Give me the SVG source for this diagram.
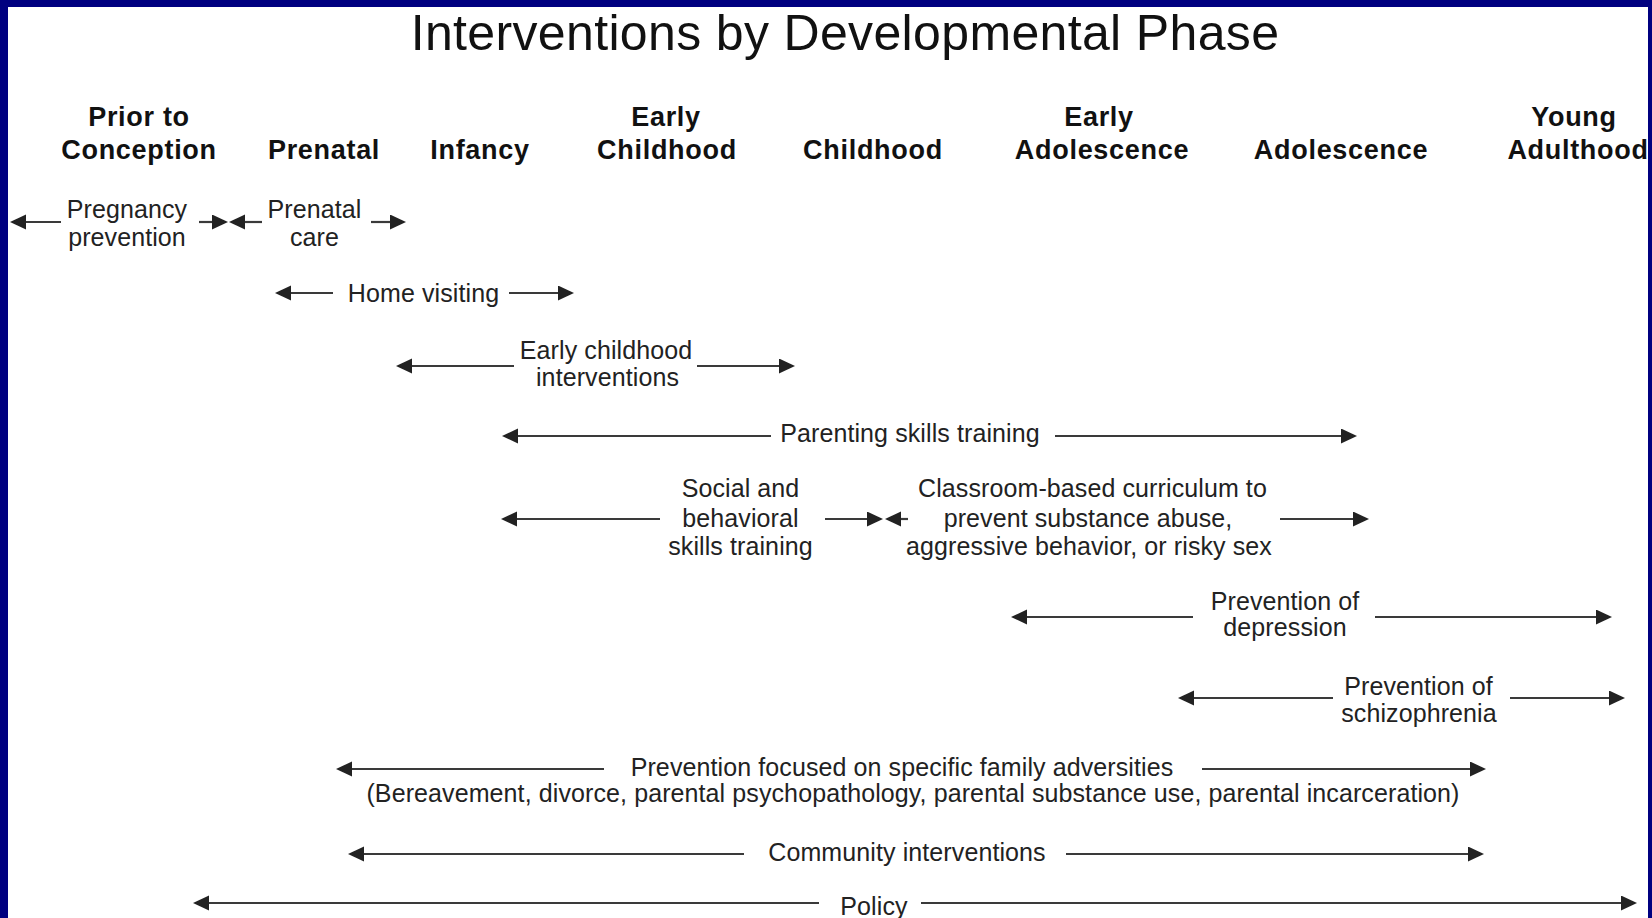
<svg xmlns="http://www.w3.org/2000/svg" width="1652" height="918" viewBox="0 0 1652 918">
  <style>
    .title { font-family: "Liberation Sans", Arial, sans-serif; font-size: 50px; letter-spacing: 0.35px; fill: #111; text-anchor: middle; }
    .phase { font-family: "Liberation Sans", Arial, sans-serif; font-size: 27px; font-weight: bold; letter-spacing: 0.7px; fill: #111; text-anchor: middle; }
    .lbl { font-family: "Liberation Sans", Arial, sans-serif; font-size: 25px; letter-spacing: 0.1px; fill: #222; text-anchor: middle; }
    .arrow { stroke: #3a3a3a; stroke-width: 2.2; fill: none; marker-end: url(#ah); }
  </style>
  <defs>
    <marker id="ah" markerUnits="userSpaceOnUse" viewBox="0 0 17 16" markerWidth="17" markerHeight="16" refX="12" refY="7.5" orient="auto">
      <path d="M0,0 L16,7.5 L0,15 z" fill="#222"/>
    </marker>
  </defs>

  <!-- frame -->
  <rect x="0" y="0" width="1652" height="918" fill="#000080"/>
  <rect x="8" y="7" width="1640" height="911" fill="#ffffff"/>

  <text id="title" class="title" x="845" y="50">Interventions by Developmental Phase</text>

  <!-- developmental phases -->
  <g id="phases">
    <g id="phase-prior"><text class="phase" x="139" y="126">Prior to</text><text class="phase" x="139" y="159">Conception</text></g>
    <g id="phase-prenatal"><text class="phase" x="324" y="159">Prenatal</text></g>
    <g id="phase-infancy"><text class="phase" x="480" y="159">Infancy</text></g>
    <g id="phase-early-childhood"><text class="phase" x="666" y="126">Early</text><text class="phase" x="667" y="159">Childhood</text></g>
    <g id="phase-childhood"><text class="phase" x="873" y="159">Childhood</text></g>
    <g id="phase-early-adolescence"><text class="phase" x="1099" y="126">Early</text><text class="phase" x="1102" y="159">Adolescence</text></g>
    <g id="phase-adolescence"><text class="phase" x="1341" y="159">Adolescence</text></g>
    <g id="phase-young-adulthood"><text class="phase" x="1574" y="126">Young</text><text class="phase" x="1578" y="159">Adulthood</text></g>
  </g>

  <!-- intervention spans -->
  <g id="connectors">
    <!-- pregnancy prevention / prenatal care -->
    <line class="arrow" x1="61" y1="222" x2="14" y2="222"/>
    <line class="arrow" x1="199" y1="222" x2="224" y2="222"/>
    <line class="arrow" x1="262" y1="222" x2="233" y2="222"/>
    <line class="arrow" x1="371" y1="222" x2="402" y2="222"/>
    <!-- home visiting -->
    <line class="arrow" x1="333" y1="293" x2="279" y2="293"/>
    <line class="arrow" x1="509" y1="293" x2="570" y2="293"/>
    <!-- early childhood interventions -->
    <line class="arrow" x1="514" y1="366" x2="400" y2="366"/>
    <line class="arrow" x1="697" y1="366" x2="791" y2="366"/>
    <!-- parenting skills training -->
    <line class="arrow" x1="771" y1="436" x2="506" y2="436"/>
    <line class="arrow" x1="1055" y1="436" x2="1353" y2="436"/>
    <!-- social skills / classroom curriculum -->
    <line class="arrow" x1="660" y1="519" x2="505" y2="519"/>
    <line class="arrow" x1="825" y1="519" x2="879" y2="519"/>
    <line class="arrow" x1="908" y1="519" x2="889" y2="519"/>
    <line class="arrow" x1="1280" y1="519" x2="1365" y2="519"/>
    <!-- depression -->
    <line class="arrow" x1="1193" y1="617" x2="1015" y2="617"/>
    <line class="arrow" x1="1375" y1="617" x2="1608" y2="617"/>
    <!-- schizophrenia -->
    <line class="arrow" x1="1333" y1="698" x2="1182" y2="698"/>
    <line class="arrow" x1="1510" y1="698" x2="1621" y2="698"/>
    <!-- family adversities -->
    <line class="arrow" x1="604" y1="769" x2="340" y2="769"/>
    <line class="arrow" x1="1202" y1="769" x2="1482" y2="769"/>
    <!-- community interventions -->
    <line class="arrow" x1="744" y1="854" x2="352" y2="854"/>
    <line class="arrow" x1="1066" y1="854" x2="1480" y2="854"/>
    <!-- policy -->
    <line class="arrow" x1="819" y1="903" x2="197" y2="903"/>
    <line class="arrow" x1="921" y1="903" x2="1633" y2="903"/>
  </g>

  <!-- intervention labels -->
  <g id="pregnancy-prevention"><text class="lbl" x="127" y="218">Pregnancy</text><text class="lbl" x="127" y="246">prevention</text></g>
  <g id="prenatal-care"><text class="lbl" x="314.5" y="218">Prenatal</text><text class="lbl" x="314.5" y="246">care</text></g>
  <g id="home-visiting"><text class="lbl" x="423.5" y="301.5">Home visiting</text></g>
  <g id="early-childhood-interventions"><text class="lbl" x="606" y="359">Early childhood</text><text class="lbl" x="607.5" y="386">interventions</text></g>
  <g id="parenting-skills"><text class="lbl" x="910" y="442">Parenting skills training</text></g>
  <g id="social-behavioral-skills"><text class="lbl" x="740.5" y="497">Social and</text><text class="lbl" x="740.5" y="526.5">behavioral</text><text class="lbl" x="740.5" y="555">skills training</text></g>
  <g id="classroom-curriculum"><text class="lbl" x="1092.5" y="497">Classroom-based curriculum to</text><text class="lbl" x="1088" y="526.5">prevent substance abuse,</text><text class="lbl" x="1089" y="555">aggressive behavior, or risky sex</text></g>
  <g id="prevention-depression"><text class="lbl" x="1285" y="610">Prevention of</text><text class="lbl" x="1285" y="636">depression</text></g>
  <g id="prevention-schizophrenia"><text class="lbl" x="1418.5" y="695">Prevention of</text><text class="lbl" x="1419" y="722">schizophrenia</text></g>
  <g id="family-adversities"><text class="lbl" x="902" y="776">Prevention focused on specific family adversities</text><text class="lbl" x="913" y="802">(Bereavement, divorce, parental psychopathology, parental substance use, parental incarceration)</text></g>
  <g id="community-interventions"><text class="lbl" x="907" y="861">Community interventions</text></g>
  <g id="policy"><text class="lbl" x="874" y="915">Policy</text></g>
</svg>
